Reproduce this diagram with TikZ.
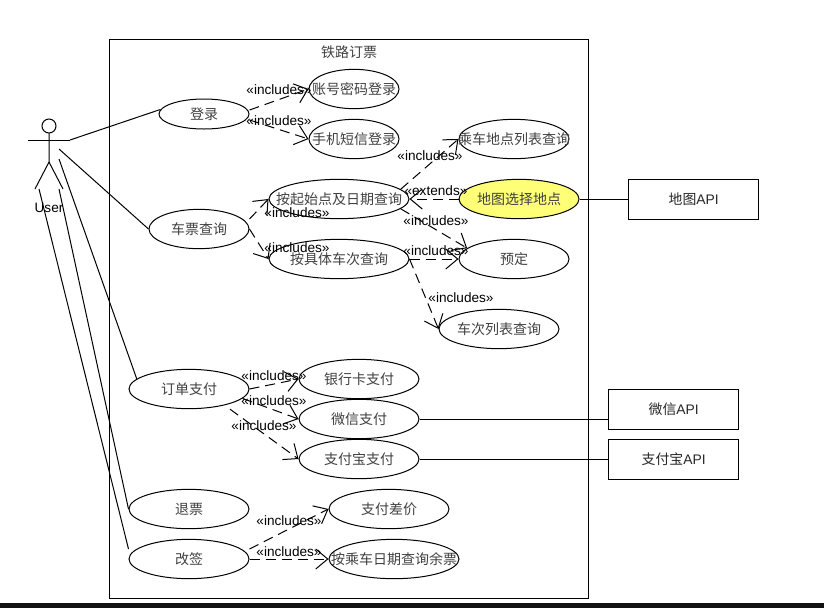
\documentclass[tikz,border=0pt]{standalone}
\usepackage{fontspec}
\setmainfont{Liberation Sans}
\newfontfamily\cjk{Noto Sans CJK SC}
\usetikzlibrary{arrows.meta,shapes.geometric}

\begin{document}
\begin{tikzpicture}[x=0.75pt,y=-0.75pt,line width=0.75pt]
    \tikzset{usecase/.style = {shape=ellipse, draw, inner xsep=-20pt, inner ysep=-8pt, minimum width=90pt, minimum height=29.5pt, font=\fontsize{10.5}{12}\cjk, text=black!75}}
    \tikzset{apibox/.style = {shape=rectangle, draw, inner sep=0pt, minimum width=97.5pt, minimum height=30pt, font=\fontsize{10.4}{12}\selectfont, text=black!85}}
    \tikzset{tag/.style = {inner sep=0pt, font=\fontsize{10.2}{12}\selectfont}}
    \tikzset{assoc/.style = {draw, -}}
    \tikzset{incl/.style = {draw, dash pattern=on 7.5pt off 4.5pt, -{Straight Barb[length=9pt,width=15pt]}}}
    \useasboundingbox (0,0) rectangle (824,608);
    \fill[black!93] (0,603) rectangle (824,608);

    % system
    \node[draw, minimum width=359.5pt, minimum height=419.25pt, inner sep=0pt] (sys) at (348.8,318.5) {};
    \node[tag, font=\fontsize{10.5}{12}\cjk, text=black!75] (systitle) at (349,52) {铁路订票};

    % actor
    \draw (49,126) circle (5.25pt);
    \coordinate (armL) at (28,140);
    \coordinate (armR) at (70,140);
    \coordinate (hip) at (49,162);
    \coordinate (legL) at (35,189);
    \coordinate (legR) at (63,189);
    \coordinate (line3) at (59,149);
    \coordinate (line4) at (59,159);
    \coordinate (line5) at (59,189);
    \coordinate (line6) at (39,189);
    \draw (armL) -- (armR);
    \draw (49,133) -- (hip) -- (legL);
    \draw (hip) -- (legR);
    \node[tag] (user) at (49,208) {User};

    % vertices
    \node[usecase, minimum width=67.5pt, minimum height=22.5pt] (denglu) at (204,114) {登录};
    \node[usecase, minimum width=67.5pt] (zhanghao) at (354,89) {账号密码登录};
    \node[usecase, minimum width=67.5pt] (shouji) at (354,139) {手机短信登录};
    \node[usecase, minimum width=75pt] (chepiao) at (199,229) {车票查询};
    \node[usecase, minimum width=105pt] (qishi) at (339,199) {按起始点及日期查询};
    \node[usecase, minimum width=105pt] (juti) at (339,259) {按具体车次查询};
    \node[usecase, minimum width=82.5pt] (liebiao) at (514,139) {乘车地点列表查询};
    \node[usecase, fill={rgb,255:red,255;green,255;blue,119}] (ditu) at (519,199) {地图选择地点};
    \node[usecase, minimum width=82.5pt] (yuding) at (514,259) {预定};
    \node[usecase] (checi) at (499,329) {车次列表查询};
    \node[usecase] (dingdan) at (189,389) {订单支付};
    \node[usecase] (yinhang) at (359,379) {银行卡支付};
    \node[usecase] (weixin) at (359,419) {微信支付};
    \node[usecase] (zhifubao) at (359,459) {支付宝支付};
    \node[usecase] (tuipiao) at (189,509) {退票};
    \node[usecase] (gaiqian) at (189,559) {改签};
    \node[usecase] (chajia) at (389,509) {支付差价};
    \node[usecase, minimum width=97.5pt] (yupiao) at (394,559) {按乘车日期查询余票};
    \node[apibox] (mapapi) at (693.7,199) {{\cjk 地图}API};
    \node[apibox] (wxapi) at (673.7,409) {{\cjk 微信}API};
    \node[apibox] (aliapi) at (673.7,459) {{\cjk 支付宝}API};

    % edges
    \draw[assoc] (armR) -- (denglu.174);
    \draw[assoc] (line3) -- (chepiao.west);
    \draw[assoc] (line4) -- (dingdan.169);
    \draw[assoc] (line5) -- (tuipiao.west);
    \draw[assoc] (line6) -- ([yshift=7.5pt]gaiqian.west);
    \draw[assoc] (ditu.east) -- (mapapi.west);
    \draw[assoc] (weixin.east) -- (wxapi.west |- weixin.east);
    \draw[assoc] (zhifubao.east) -- (aliapi.west);

    \draw[incl] ([yshift=3pt]denglu.east) -- (zhanghao.west);
    \draw[incl] ([yshift=-4.5pt]denglu.east) -- (shouji.west);
    \draw[incl] ([yshift=7.5pt]chepiao.east) -- (qishi.west);
    \draw[incl] (chepiao.east) -- (juti.west);
    \draw[incl] (qishi.9) -- (liebiao.west);
    \draw[incl] (ditu.west) -- (qishi.east);
    \draw[incl] (qishi.-9) -- (yuding.167);
    \draw[incl] (juti.east) -- (yuding.west);
    \draw[incl] (juti.east) -- (checi.west);
    \draw[incl] (dingdan.east) -- (yinhang.west);
    \draw[incl] (dingdan.-10) -- (weixin.west);
    \draw[incl] ([xshift=30.75pt]dingdan.south) -- (zhifubao.west);
    \draw[incl] ([yshift=7.5pt]gaiqian.east) -- (chajia.west);
    \draw[incl] (gaiqian.east) -- (yupiao.west);

    % labels
    \node[tag] (t1) at (279,90) {«includes»};
    \node[tag] (t2) at (279,121) {«includes»};
    \node[tag] (t3) at (297,213) {«includes»};
    \node[tag] (t4) at (297,248) {«includes»};
    \node[tag] (t5) at (430,156) {«includes»};
    \node[tag] (t6) at (436,191) {«extends»};
    \node[tag] (t7) at (436,221) {«includes»};
    \node[tag] (t8) at (436,251) {«includes»};
    \node[tag] (t9) at (461,298) {«includes»};
    \node[tag] (t10) at (274,376) {«includes»};
    \node[tag] (t11) at (274,401) {«includes»};
    \node[tag] (t12) at (264,426) {«includes»};
    \node[tag] (t13) at (289,521) {«includes»};
    \node[tag] (t14) at (289,552) {«includes»};
\end{tikzpicture}
\end{document}
